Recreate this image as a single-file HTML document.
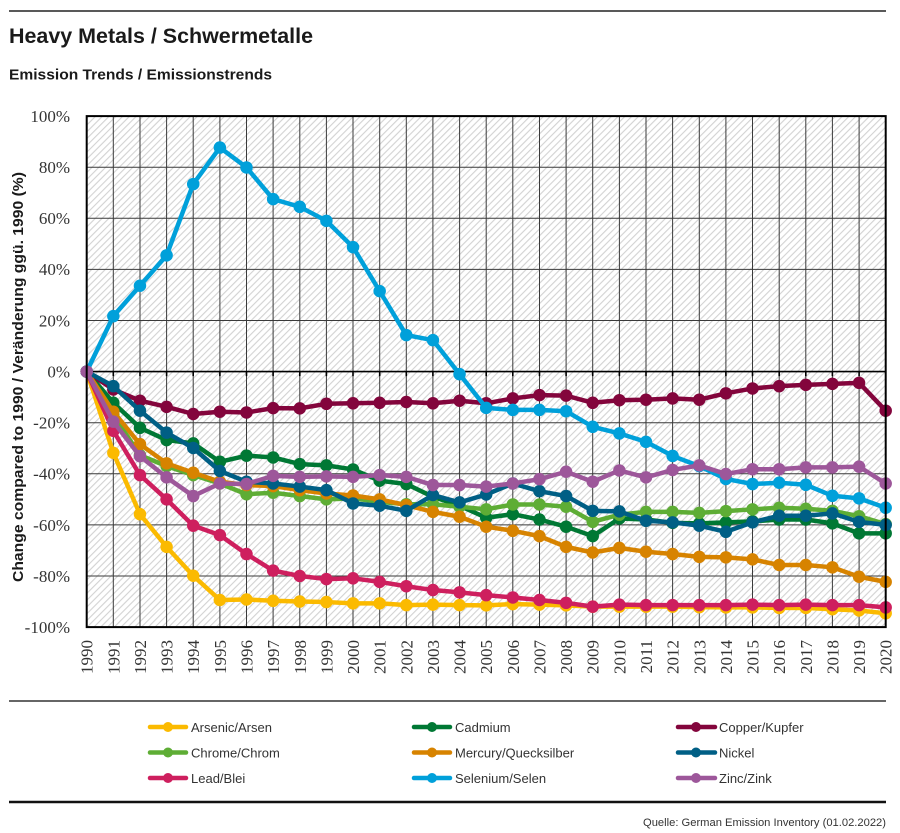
<!DOCTYPE html>
<html><head><meta charset="utf-8"><style>
html,body{margin:0;padding:0;background:#fff;}
svg{display:block;}
</style></head><body>
<svg width="900" height="833" viewBox="0 0 900 833" xmlns="http://www.w3.org/2000/svg">
<defs>
<pattern id="hatch" patternUnits="userSpaceOnUse" width="4.8" height="4.8" patternTransform="rotate(45)">
<rect width="4.8" height="4.8" fill="#ffffff"/>
<line x1="1" y1="0" x2="1" y2="4.8" stroke="#d2d2d2" stroke-width="1.1"/>
</pattern>
</defs>
<rect width="900" height="833" fill="#fff"/>
<line x1="9" y1="11" x2="886" y2="11" stroke="#222" stroke-width="1.5"/>
<text x="9" y="43" font-family="Liberation Sans, sans-serif" font-weight="bold" font-size="21" fill="#1a1a1a" textLength="304" lengthAdjust="spacingAndGlyphs">Heavy Metals / Schwermetalle</text>
<text x="9" y="79.5" font-family="Liberation Sans, sans-serif" font-weight="bold" font-size="14.5" fill="#1a1a1a" textLength="263" lengthAdjust="spacingAndGlyphs">Emission Trends / Emissionstrends</text>

<!-- plot background -->
<rect x="86.7" y="116.1" width="799" height="511" fill="url(#hatch)"/>
<!-- grid -->
<g stroke="#3a3a3a" stroke-width="1">
<line x1="113.3" y1="116" x2="113.3" y2="627"/><line x1="140.0" y1="116" x2="140.0" y2="627"/><line x1="166.6" y1="116" x2="166.6" y2="627"/><line x1="193.2" y1="116" x2="193.2" y2="627"/><line x1="219.9" y1="116" x2="219.9" y2="627"/><line x1="246.5" y1="116" x2="246.5" y2="627"/><line x1="273.1" y1="116" x2="273.1" y2="627"/><line x1="299.8" y1="116" x2="299.8" y2="627"/><line x1="326.4" y1="116" x2="326.4" y2="627"/><line x1="353.0" y1="116" x2="353.0" y2="627"/><line x1="379.7" y1="116" x2="379.7" y2="627"/><line x1="406.3" y1="116" x2="406.3" y2="627"/><line x1="432.9" y1="116" x2="432.9" y2="627"/><line x1="459.6" y1="116" x2="459.6" y2="627"/><line x1="486.2" y1="116" x2="486.2" y2="627"/><line x1="512.8" y1="116" x2="512.8" y2="627"/><line x1="539.5" y1="116" x2="539.5" y2="627"/><line x1="566.1" y1="116" x2="566.1" y2="627"/><line x1="592.7" y1="116" x2="592.7" y2="627"/><line x1="619.4" y1="116" x2="619.4" y2="627"/><line x1="646.0" y1="116" x2="646.0" y2="627"/><line x1="672.6" y1="116" x2="672.6" y2="627"/><line x1="699.3" y1="116" x2="699.3" y2="627"/><line x1="725.9" y1="116" x2="725.9" y2="627"/><line x1="752.5" y1="116" x2="752.5" y2="627"/><line x1="779.2" y1="116" x2="779.2" y2="627"/><line x1="805.8" y1="116" x2="805.8" y2="627"/><line x1="832.4" y1="116" x2="832.4" y2="627"/><line x1="859.1" y1="116" x2="859.1" y2="627"/>
<line x1="86.7" y1="167.2" x2="885.7" y2="167.2"/><line x1="86.7" y1="218.3" x2="885.7" y2="218.3"/><line x1="86.7" y1="269.4" x2="885.7" y2="269.4"/><line x1="86.7" y1="320.5" x2="885.7" y2="320.5"/><line x1="86.7" y1="422.7" x2="885.7" y2="422.7"/><line x1="86.7" y1="473.8" x2="885.7" y2="473.8"/><line x1="86.7" y1="524.9" x2="885.7" y2="524.9"/><line x1="86.7" y1="576.0" x2="885.7" y2="576.0"/>
</g>
<line x1="86.7" y1="371.6" x2="885.7" y2="371.6" stroke="#000" stroke-width="1.6"/>
<path d="M113.3 371.6v4.5M140.0 371.6v4.5M166.6 371.6v4.5M193.2 371.6v4.5M219.9 371.6v4.5M246.5 371.6v4.5M273.1 371.6v4.5M299.8 371.6v4.5M326.4 371.6v4.5M353.0 371.6v4.5M379.7 371.6v4.5M406.3 371.6v4.5M432.9 371.6v4.5M459.6 371.6v4.5M486.2 371.6v4.5M512.8 371.6v4.5M539.5 371.6v4.5M566.1 371.6v4.5M592.7 371.6v4.5M619.4 371.6v4.5M646.0 371.6v4.5M672.6 371.6v4.5M699.3 371.6v4.5M725.9 371.6v4.5M752.5 371.6v4.5M779.2 371.6v4.5M805.8 371.6v4.5M832.4 371.6v4.5M859.1 371.6v4.5" stroke="#000" stroke-width="1.6"/>

<!-- series -->
<g transform="translate(86.7,371.6) scale(26.633,-2.555)" fill="none" stroke-linejoin="round">
<g stroke="#FBBA00">
<polyline vector-effect="non-scaling-stroke" stroke-width="4.5" points="0,0 1,-31.8 2,-55.8 3,-68.6 4,-79.9 5,-89.4 6,-89.2 7,-89.7 8,-90 9,-90.2 10,-90.7 11,-90.7 12,-91.4 13,-91.2 14,-91.4 15,-91.5 16,-91 17,-91.2 18,-91.5 19,-92 20,-92 21,-92 22,-92 23,-92.2 24,-92.3 25,-92.3 26,-92.5 27,-92.5 28,-93 29,-93.5 30,-94.6"/>
<path vector-effect="non-scaling-stroke" stroke-width="12.5" stroke-linecap="round" d="M0,0h0M1,-31.8h0M2,-55.8h0M3,-68.6h0M4,-79.9h0M5,-89.4h0M6,-89.2h0M7,-89.7h0M8,-90h0M9,-90.2h0M10,-90.7h0M11,-90.7h0M12,-91.4h0M13,-91.2h0M14,-91.4h0M15,-91.5h0M16,-91h0M17,-91.2h0M18,-91.5h0M19,-92h0M20,-92h0M21,-92h0M22,-92h0M23,-92.2h0M24,-92.3h0M25,-92.3h0M26,-92.5h0M27,-92.5h0M28,-93h0M29,-93.5h0M30,-94.6h0"/>
</g>
<g stroke="#007834">
<polyline vector-effect="non-scaling-stroke" stroke-width="4.5" points="0,0 1,-12.2 2,-22 3,-26.8 4,-28.1 5,-35.3 6,-32.9 7,-33.6 8,-36.2 9,-36.7 10,-38.3 11,-42.7 12,-44 13,-49 14,-52.5 15,-57.2 16,-55.8 17,-57.9 18,-60.7 19,-64.4 20,-57.5 21,-57.9 22,-59.2 23,-59.4 24,-59 25,-58.6 26,-57.9 27,-57.9 28,-59.4 29,-63.3 30,-63.3"/>
<path vector-effect="non-scaling-stroke" stroke-width="12.5" stroke-linecap="round" d="M0,0h0M1,-12.2h0M2,-22h0M3,-26.8h0M4,-28.1h0M5,-35.3h0M6,-32.9h0M7,-33.6h0M8,-36.2h0M9,-36.7h0M10,-38.3h0M11,-42.7h0M12,-44h0M13,-49h0M14,-52.5h0M15,-57.2h0M16,-55.8h0M17,-57.9h0M18,-60.7h0M19,-64.4h0M20,-57.5h0M21,-57.9h0M22,-59.2h0M23,-59.4h0M24,-59h0M25,-58.6h0M26,-57.9h0M27,-57.9h0M28,-59.4h0M29,-63.3h0M30,-63.3h0"/>
</g>
<g stroke="#83053C">
<polyline vector-effect="non-scaling-stroke" stroke-width="4.5" points="0,0 1,-7 2,-11.4 3,-13.8 4,-16.6 5,-15.7 6,-16 7,-14.3 8,-14.4 9,-12.6 10,-12.4 11,-12.2 12,-11.9 13,-12.4 14,-11.4 15,-12.4 16,-10.5 17,-9.2 18,-9.4 19,-12.2 20,-11.2 21,-11 22,-10.5 23,-11 24,-8.5 25,-6.6 26,-5.7 27,-5.2 28,-4.8 29,-4.4 30,-15.3"/>
<path vector-effect="non-scaling-stroke" stroke-width="12.5" stroke-linecap="round" d="M0,0h0M1,-7h0M2,-11.4h0M3,-13.8h0M4,-16.6h0M5,-15.7h0M6,-16h0M7,-14.3h0M8,-14.4h0M9,-12.6h0M10,-12.4h0M11,-12.2h0M12,-11.9h0M13,-12.4h0M14,-11.4h0M15,-12.4h0M16,-10.5h0M17,-9.2h0M18,-9.4h0M19,-12.2h0M20,-11.2h0M21,-11h0M22,-10.5h0M23,-11h0M24,-8.5h0M25,-6.6h0M26,-5.7h0M27,-5.2h0M28,-4.8h0M29,-4.4h0M30,-15.3h0"/>
</g>
<g stroke="#5EAD35">
<polyline vector-effect="non-scaling-stroke" stroke-width="4.5" points="0,0 1,-17 2,-32.7 3,-37 4,-40.5 5,-43.8 6,-48 7,-47.4 8,-48.7 9,-50 10,-49.6 11,-51 12,-51.9 13,-51.9 14,-52.9 15,-53.9 16,-52 17,-52 18,-52.9 19,-58.8 20,-56 21,-54.9 22,-54.9 23,-55.3 24,-54.6 25,-53.9 26,-53.3 27,-53.7 28,-54.5 29,-56.6 30,-59.7"/>
<path vector-effect="non-scaling-stroke" stroke-width="12.5" stroke-linecap="round" d="M0,0h0M1,-17h0M2,-32.7h0M3,-37h0M4,-40.5h0M5,-43.8h0M6,-48h0M7,-47.4h0M8,-48.7h0M9,-50h0M10,-49.6h0M11,-51h0M12,-51.9h0M13,-51.9h0M14,-52.9h0M15,-53.9h0M16,-52h0M17,-52h0M18,-52.9h0M19,-58.8h0M20,-56h0M21,-54.9h0M22,-54.9h0M23,-55.3h0M24,-54.6h0M25,-53.9h0M26,-53.3h0M27,-53.7h0M28,-54.5h0M29,-56.6h0M30,-59.7h0"/>
</g>
<g stroke="#D78300">
<polyline vector-effect="non-scaling-stroke" stroke-width="4.5" points="0,0 1,-15.7 2,-28.4 3,-35.9 4,-39.6 5,-43.1 6,-44.4 7,-44.8 8,-46.4 9,-47.7 10,-48.5 11,-50 12,-52.3 13,-54.9 14,-56.8 15,-60.7 16,-62.3 17,-64.4 18,-68.6 19,-70.8 20,-69 21,-70.5 22,-71.4 23,-72.5 24,-72.7 25,-73.5 26,-75.7 27,-75.7 28,-76.6 29,-80.3 30,-82.3"/>
<path vector-effect="non-scaling-stroke" stroke-width="12.5" stroke-linecap="round" d="M0,0h0M1,-15.7h0M2,-28.4h0M3,-35.9h0M4,-39.6h0M5,-43.1h0M6,-44.4h0M7,-44.8h0M8,-46.4h0M9,-47.7h0M10,-48.5h0M11,-50h0M12,-52.3h0M13,-54.9h0M14,-56.8h0M15,-60.7h0M16,-62.3h0M17,-64.4h0M18,-68.6h0M19,-70.8h0M20,-69h0M21,-70.5h0M22,-71.4h0M23,-72.5h0M24,-72.7h0M25,-73.5h0M26,-75.7h0M27,-75.7h0M28,-76.6h0M29,-80.3h0M30,-82.3h0"/>
</g>
<g stroke="#005F85">
<polyline vector-effect="non-scaling-stroke" stroke-width="4.5" points="0,0 1,-5.7 2,-15.3 3,-23.9 4,-29.9 5,-38.9 6,-43.1 7,-43.8 8,-45 9,-46.4 10,-51.6 11,-52.5 12,-54.5 13,-48.3 14,-51.2 15,-48.1 16,-43.8 17,-46.8 18,-48.7 19,-54.5 20,-54.7 21,-58.4 22,-59 23,-60.3 24,-62.7 25,-59 26,-56.4 27,-56.4 28,-55.5 29,-58.8 30,-60"/>
<path vector-effect="non-scaling-stroke" stroke-width="12.5" stroke-linecap="round" d="M0,0h0M1,-5.7h0M2,-15.3h0M3,-23.9h0M4,-29.9h0M5,-38.9h0M6,-43.1h0M7,-43.8h0M8,-45h0M9,-46.4h0M10,-51.6h0M11,-52.5h0M12,-54.5h0M13,-48.3h0M14,-51.2h0M15,-48.1h0M16,-43.8h0M17,-46.8h0M18,-48.7h0M19,-54.5h0M20,-54.7h0M21,-58.4h0M22,-59h0M23,-60.3h0M24,-62.7h0M25,-59h0M26,-56.4h0M27,-56.4h0M28,-55.5h0M29,-58.8h0M30,-60h0"/>
</g>
<g stroke="#CE1F5E">
<polyline vector-effect="non-scaling-stroke" stroke-width="4.5" points="0,0 1,-23.2 2,-40.5 3,-50 4,-60.3 5,-64 6,-71.4 7,-77.9 8,-80 9,-81.2 10,-80.9 11,-82.3 12,-84 13,-85.5 14,-86.4 15,-87.5 16,-88.4 17,-89.4 18,-90.5 19,-92 20,-91.2 21,-91.4 22,-91.4 23,-91.4 24,-91.4 25,-91.2 26,-91.4 27,-91.2 28,-91.4 29,-91.4 30,-92.3"/>
<path vector-effect="non-scaling-stroke" stroke-width="12.5" stroke-linecap="round" d="M0,0h0M1,-23.2h0M2,-40.5h0M3,-50h0M4,-60.3h0M5,-64h0M6,-71.4h0M7,-77.9h0M8,-80h0M9,-81.2h0M10,-80.9h0M11,-82.3h0M12,-84h0M13,-85.5h0M14,-86.4h0M15,-87.5h0M16,-88.4h0M17,-89.4h0M18,-90.5h0M19,-92h0M20,-91.2h0M21,-91.4h0M22,-91.4h0M23,-91.4h0M24,-91.4h0M25,-91.2h0M26,-91.4h0M27,-91.2h0M28,-91.4h0M29,-91.4h0M30,-92.3h0"/>
</g>
<g stroke="#00A0DA">
<polyline vector-effect="non-scaling-stroke" stroke-width="4.5" points="0,0 1,21.7 2,33.6 3,45.5 4,73.4 5,87.7 6,79.9 7,67.5 8,64.5 9,59 10,48.7 11,31.5 12,14.3 13,12.3 14,-1 15,-14.2 16,-15 17,-15 18,-15.5 19,-21.6 20,-24.2 21,-27.5 22,-33 23,-37 24,-42 25,-44 26,-43.5 27,-44.3 28,-48.6 29,-49.6 30,-53.3"/>
<path vector-effect="non-scaling-stroke" stroke-width="12.5" stroke-linecap="round" d="M0,0h0M1,21.7h0M2,33.6h0M3,45.5h0M4,73.4h0M5,87.7h0M6,79.9h0M7,67.5h0M8,64.5h0M9,59h0M10,48.7h0M11,31.5h0M12,14.3h0M13,12.3h0M14,-1h0M15,-14.2h0M16,-15h0M17,-15h0M18,-15.5h0M19,-21.6h0M20,-24.2h0M21,-27.5h0M22,-33h0M23,-37h0M24,-42h0M25,-44h0M26,-43.5h0M27,-44.3h0M28,-48.6h0M29,-49.6h0M30,-53.3h0"/>
</g>
<g stroke="#9D579A">
<polyline vector-effect="non-scaling-stroke" stroke-width="4.5" points="0,0 1,-19.6 2,-33.1 3,-41.4 4,-48.7 5,-43.8 6,-44 7,-40.8 8,-41.2 9,-41 10,-41.2 11,-40.5 12,-41.2 13,-44.4 14,-44.4 15,-45 16,-43.8 17,-42.1 18,-39.2 19,-43.1 20,-38.7 21,-41.4 22,-38.5 23,-36.7 24,-40.1 25,-38.2 26,-38.2 27,-37.5 28,-37.5 29,-37.2 30,-43.8"/>
<path vector-effect="non-scaling-stroke" stroke-width="12.5" stroke-linecap="round" d="M0,0h0M1,-19.6h0M2,-33.1h0M3,-41.4h0M4,-48.7h0M5,-43.8h0M6,-44h0M7,-40.8h0M8,-41.2h0M9,-41h0M10,-41.2h0M11,-40.5h0M12,-41.2h0M13,-44.4h0M14,-44.4h0M15,-45h0M16,-43.8h0M17,-42.1h0M18,-39.2h0M19,-43.1h0M20,-38.7h0M21,-41.4h0M22,-38.5h0M23,-36.7h0M24,-40.1h0M25,-38.2h0M26,-38.2h0M27,-37.5h0M28,-37.5h0M29,-37.2h0M30,-43.8h0"/>
</g>
</g>

<!-- frame -->
<rect x="86.7" y="116.1" width="799" height="511" fill="none" stroke="#000" stroke-width="2"/>

<!-- y tick labels -->
<g font-family="Liberation Serif, serif" font-size="17" fill="#333" text-anchor="end">
<text x="70" y="122">100%</text>
<text x="70" y="173">80%</text>
<text x="70" y="224">60%</text>
<text x="70" y="275">40%</text>
<text x="70" y="326.5">20%</text>
<text x="70" y="377.5">0%</text>
<text x="70" y="428.5">-20%</text>
<text x="70" y="479.5">-40%</text>
<text x="70" y="531">-60%</text>
<text x="70" y="582">-80%</text>
<text x="70" y="633">-100%</text>
</g>

<!-- y axis title -->
<text transform="translate(23,377) rotate(-90)" text-anchor="middle" font-family="Liberation Sans, sans-serif" font-weight="bold" font-size="14.5" fill="#1a1a1a" textLength="410" lengthAdjust="spacingAndGlyphs">Change compared to 1990 / Veränderung ggü. 1990 (%)</text>

<!-- x labels -->
<g font-family="Liberation Serif, serif" font-size="17" fill="#333" text-anchor="end">
<text transform="translate(92.7,640) rotate(-90)">1990</text>
<text transform="translate(119.3,640) rotate(-90)">1991</text>
<text transform="translate(146.0,640) rotate(-90)">1992</text>
<text transform="translate(172.6,640) rotate(-90)">1993</text>
<text transform="translate(199.2,640) rotate(-90)">1994</text>
<text transform="translate(225.9,640) rotate(-90)">1995</text>
<text transform="translate(252.5,640) rotate(-90)">1996</text>
<text transform="translate(279.1,640) rotate(-90)">1997</text>
<text transform="translate(305.8,640) rotate(-90)">1998</text>
<text transform="translate(332.4,640) rotate(-90)">1999</text>
<text transform="translate(359.0,640) rotate(-90)">2000</text>
<text transform="translate(385.7,640) rotate(-90)">2001</text>
<text transform="translate(412.3,640) rotate(-90)">2002</text>
<text transform="translate(438.9,640) rotate(-90)">2003</text>
<text transform="translate(465.6,640) rotate(-90)">2004</text>
<text transform="translate(492.2,640) rotate(-90)">2005</text>
<text transform="translate(518.8,640) rotate(-90)">2006</text>
<text transform="translate(545.5,640) rotate(-90)">2007</text>
<text transform="translate(572.1,640) rotate(-90)">2008</text>
<text transform="translate(598.7,640) rotate(-90)">2009</text>
<text transform="translate(625.4,640) rotate(-90)">2010</text>
<text transform="translate(652.0,640) rotate(-90)">2011</text>
<text transform="translate(678.6,640) rotate(-90)">2012</text>
<text transform="translate(705.3,640) rotate(-90)">2013</text>
<text transform="translate(731.9,640) rotate(-90)">2014</text>
<text transform="translate(758.5,640) rotate(-90)">2015</text>
<text transform="translate(785.2,640) rotate(-90)">2016</text>
<text transform="translate(811.8,640) rotate(-90)">2017</text>
<text transform="translate(838.4,640) rotate(-90)">2018</text>
<text transform="translate(865.1,640) rotate(-90)">2019</text>
<text transform="translate(891.7,640) rotate(-90)">2020</text>
</g>

<!-- legend -->
<line x1="9" y1="701" x2="886" y2="701" stroke="#333" stroke-width="1.5"/>
<g stroke-width="4.5" stroke-linecap="round">
<line x1="150" y1="727" x2="186" y2="727" stroke="#FBBA00"/><circle cx="168" cy="727" r="5" fill="#FBBA00" stroke="none"/>
<line x1="150" y1="752.5" x2="186" y2="752.5" stroke="#5EAD35"/><circle cx="168" cy="752.5" r="5" fill="#5EAD35" stroke="none"/>
<line x1="150" y1="778" x2="186" y2="778" stroke="#CE1F5E"/><circle cx="168" cy="778" r="5" fill="#CE1F5E" stroke="none"/>
<line x1="414" y1="727" x2="450" y2="727" stroke="#007834"/><circle cx="432" cy="727" r="5" fill="#007834" stroke="none"/>
<line x1="414" y1="752.5" x2="450" y2="752.5" stroke="#D78300"/><circle cx="432" cy="752.5" r="5" fill="#D78300" stroke="none"/>
<line x1="414" y1="778" x2="450" y2="778" stroke="#00A0DA"/><circle cx="432" cy="778" r="5" fill="#00A0DA" stroke="none"/>
<line x1="678" y1="727" x2="715" y2="727" stroke="#83053C"/><circle cx="696" cy="727" r="5" fill="#83053C" stroke="none"/>
<line x1="678" y1="752.5" x2="715" y2="752.5" stroke="#005F85"/><circle cx="696" cy="752.5" r="5" fill="#005F85" stroke="none"/>
<line x1="678" y1="778" x2="715" y2="778" stroke="#9D579A"/><circle cx="696" cy="778" r="5" fill="#9D579A" stroke="none"/>
</g>
<g font-family="Liberation Sans, sans-serif" font-size="13" fill="#333">
<text x="191" y="732">Arsenic/Arsen</text>
<text x="191" y="757.5">Chrome/Chrom</text>
<text x="191" y="783">Lead/Blei</text>
<text x="455" y="732">Cadmium</text>
<text x="455" y="757.5">Mercury/Quecksilber</text>
<text x="455" y="783">Selenium/Selen</text>
<text x="719" y="732">Copper/Kupfer</text>
<text x="719" y="757.5">Nickel</text>
<text x="719" y="783">Zinc/Zink</text>
</g>
<line x1="9" y1="802" x2="886" y2="802" stroke="#111" stroke-width="2.5"/>
<text x="886" y="826" text-anchor="end" font-family="Liberation Sans, sans-serif" font-size="11" fill="#333" textLength="243" lengthAdjust="spacingAndGlyphs">Quelle: German Emission Inventory (01.02.2022)</text>
</svg>
</body></html>
